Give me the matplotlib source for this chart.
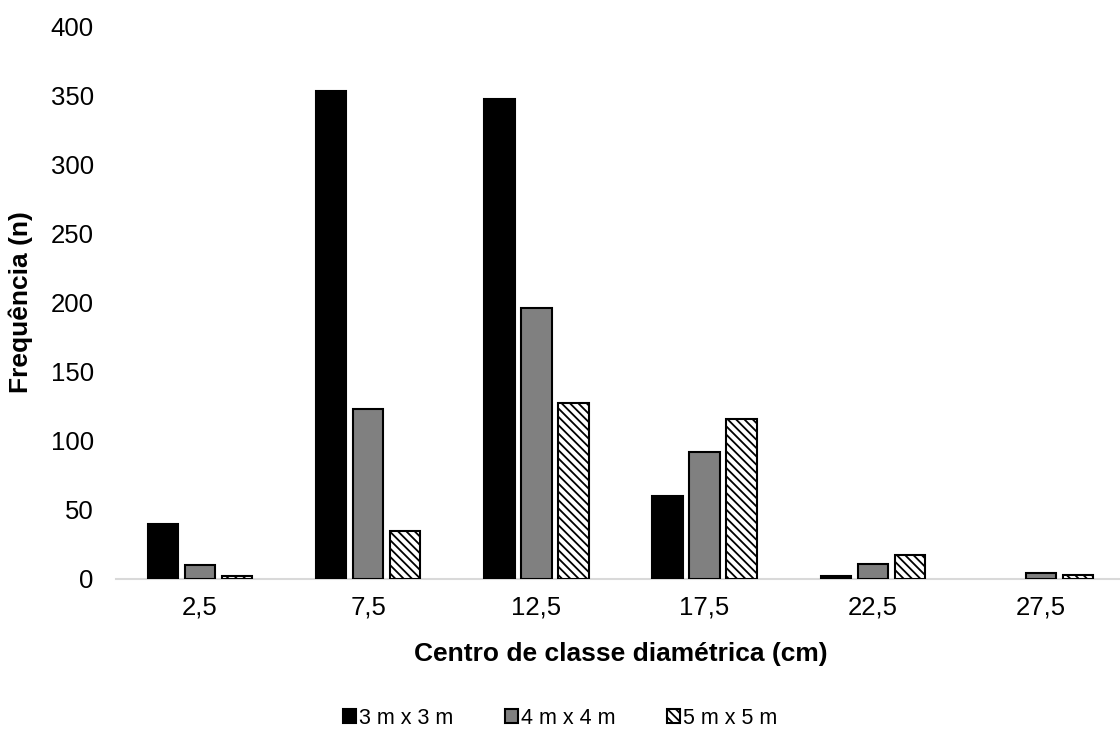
import matplotlib
matplotlib.use("Agg")
import matplotlib.pyplot as plt
import numpy as np

plt.rcParams['font.family'] = ['Liberation Sans', 'DejaVu Sans']
plt.rcParams['hatch.linewidth'] = 1.3

categories = ["2,5", "7,5", "12,5", "17,5", "22,5", "27,5"]
series_names = ["3 m x 3 m", "4 m x 4 m", "5 m x 5 m"]
freq_3x3 = [40, 353, 347, 60, 2, 0]
freq_4x4 = [10, 123, 196, 92, 11, 4]
freq_5x5 = [2, 35, 127, 116, 17, 3]
yticks = [0, 50, 100, 150, 200, 250, 300, 350, 400]

W, H = 1120, 731
fig = plt.figure(figsize=(W / 100, H / 100), dpi=100)
ax = fig.add_axes([116 / W, 1 - 579 / H, 1009 / W, (579 - 26) / H])

x = np.arange(len(categories))
bw = 0.18
step = 0.22
styles = [
    dict(color="black", edgecolor="black"),
    dict(color="#808080", edgecolor="black"),
    dict(color="white", edgecolor="black", hatch="\\\\\\\\"),
]
handles = []
for i, (vals, st) in enumerate(zip([freq_3x3, freq_4x4, freq_5x5], styles)):
    lws = [1.5 if v > 0 else 0 for v in vals]
    b = ax.bar(x + (i - 1) * step, vals, width=bw, linewidth=lws,
               label=series_names[i], zorder=3, **st)
    handles.append(b)

ax.set_xlim(-0.5, len(categories) - 0.5)
ax.set_ylim(0, 400)
ax.set_yticks(yticks)
ax.set_xticks(x)
ax.set_xticklabels(categories)
ax.tick_params(axis="both", length=0, labelsize=18.5, colors="black")
ax.tick_params(axis="y", pad=16)
ax.tick_params(axis="x", pad=12)
for s in ["top", "right", "left"]:
    ax.spines[s].set_visible(False)
ax.spines["bottom"].set_color("#d9d9d9")
ax.spines["bottom"].set_linewidth(1.5)

ax.set_xlabel("Centro de classe diamétrica (cm)", fontsize=19, fontweight="bold", labelpad=16)
ax.set_ylabel("Frequência (n)", fontsize=19, fontweight="bold")
ax.yaxis.set_label_coords(-83 / 1009, 0.5)

fig.legend(handles=handles, labels=series_names, loc="center",
           bbox_to_anchor=(560 / W, 1 - 718 / H), ncol=3, frameon=False,
           fontsize=15.5, handlelength=0.6, handleheight=0.6, handletextpad=0.14,
           columnspacing=2.4)

fig.savefig("out.png", dpi=100)
